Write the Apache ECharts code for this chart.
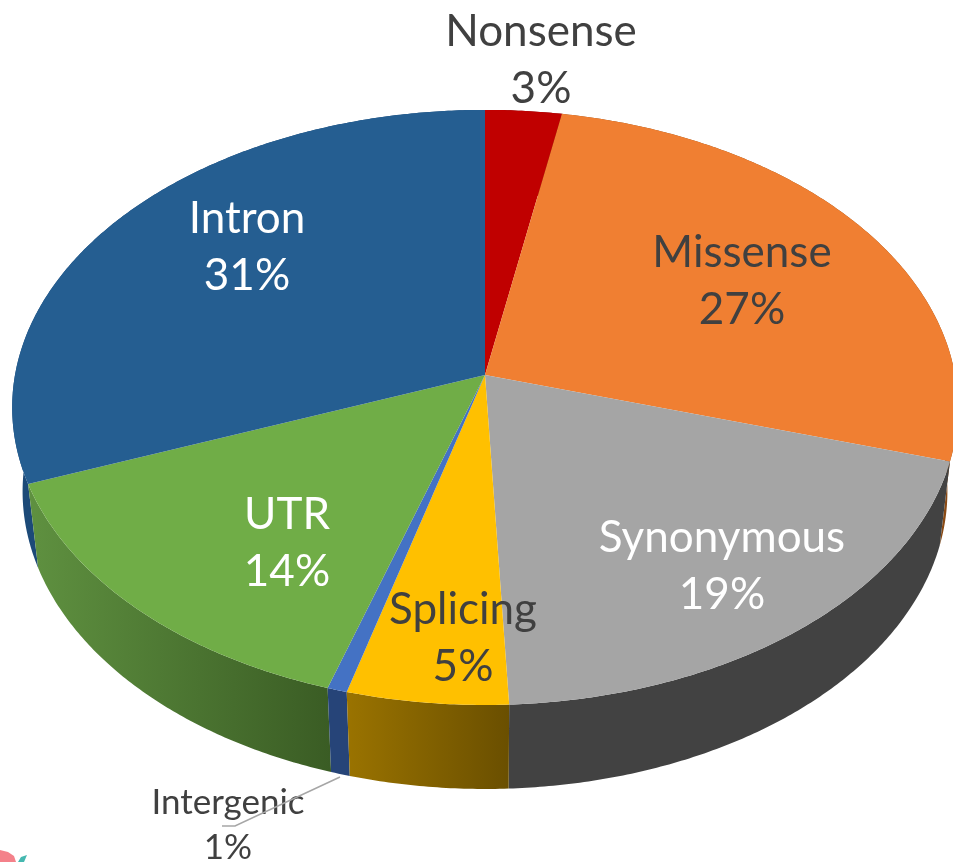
<!DOCTYPE html>
<html>
<head>
<meta charset="utf-8">
<style>
  html, body { margin: 0; padding: 0; background: #fff; }
  #chart { width: 953px; height: 862px; }
</style>
</head>
<body>
<div id="chart"></div>
<script src="https://cdn.jsdelivr.net/npm/echarts@6/dist/echarts.min.js"></script>
<script>
const categories = ['Nonsense', 'Missense', 'Synonymous', 'Splicing', 'Intergenic', 'UTR', 'Intron']
const shares = [2.9, 26.7, 19.67, 4.97, 0.61, 14.35, 30.8]
const percentLabels = ['3%', '27%', '19%', '5%', '1%', '14%', '31%']

const topColors = ['#c00000', '#f07f32', '#a5a5a5', '#ffc000', '#4472c4', '#70ad47', '#255e91']
const wallColors = [
  ['#7a0000', '#7a0000'],
  ['#8a4a14', '#8a4a14'],
  ['#424242', '#424242'],
  ['#9a7300', '#6a4f00'],
  ['#264478', '#264478'],
  ['#5f9140', '#3a5c24'],
  ['#1c4a78', '#1c4a78']
]
const labelColors = ['#404040', '#404040', '#ffffff', '#404040', '#404040', '#ffffff', '#ffffff']
const labelAnchors = [[541, 60], [742, 281], [722, 566], [463, 638], [228, 825], [287, 543], [247, 247]]
const labelSizes = [44, 44, 44, 44, 35, 44, 44]
const leaderLine = [[340, 777], [235, 826], [222, 826]]

// pie tilted in perspective: a circle seen through a projective map
const apex = [485, 375]
const rimA = 470
const rimB = 294
const tilt = 0.109
const depth = 84
const wallTaper = 0.978

const total = shares.reduce((a, b) => a + b, 0)
let acc = 0
const slices = shares.map(v => {
  const s = { start: (acc / total) * 360, end: ((acc + v) / total) * 360 }
  acc += v
  return s
})

function rim(deg, lower) {
  const t = (deg * Math.PI) / 180
  const u = Math.sin(t)
  const v = -Math.cos(t)
  const w = 1 - tilt * v
  const x = (rimA * u) / w
  const y = (rimB * v) / w
  return lower ? [apex[0] + x * wallTaper, apex[1] + y + depth] : [apex[0] + x, apex[1] + y]
}

function arc(s, lower) {
  const pts = []
  const n = Math.max(2, Math.ceil((s.end - s.start) * 2))
  for (let i = 0; i <= n; i++) pts.push(rim(s.start + ((s.end - s.start) * i) / n, lower))
  return pts
}

// back walls first, the nearest ones last
const wallOrder = slices
  .map((s, i) => ({ i, near: -Math.cos((((s.start + s.end) / 2) * Math.PI) / 180) }))
  .sort((a, b) => a.near - b.near)
  .map(d => d.i)

const chart = echarts.init(document.getElementById('chart'))

chart.setOption({
  backgroundColor: '#ffffff',
  animation: false,
  graphic: [
    { type: 'polygon', shape: { points: [[0, 850], [8, 852], [14, 856], [16, 862], [0, 862]] }, style: { fill: '#f4818a' } },
    { type: 'polygon', shape: { points: [[27, 855], [21, 857], [18, 862], [24, 862]] }, style: { fill: '#45b8b0' } }
  ],
  series: [
    {
      type: 'custom',
      coordinateSystem: 'none',
      silent: true,
      z: 1,
      data: wallOrder.map(i => [i]),
      renderItem(params, api) {
        const i = api.value(0)
        const pts = arc(slices[i], false).concat(arc(slices[i], true).reverse())
        return {
          type: 'polygon',
          shape: { points: pts },
          style: {
            fill: new echarts.graphic.LinearGradient(0, 0, 1, 0, [
              { offset: 0, color: wallColors[i][0] },
              { offset: 1, color: wallColors[i][1] }
            ])
          }
        }
      }
    },
    {
      type: 'custom',
      coordinateSystem: 'none',
      silent: true,
      z: 2,
      data: shares.map((v, i) => [i]),
      renderItem(params, api) {
        const i = api.value(0)
        return {
          type: 'polygon',
          shape: { points: [apex].concat(arc(slices[i], false)) },
          style: { fill: topColors[i] }
        }
      }
    },
    {
      type: 'custom',
      coordinateSystem: 'none',
      silent: true,
      z: 4,
      data: shares.map((v, i) => [i]),
      renderItem(params, api) {
        const i = api.value(0)
        const size = labelSizes[i]
        const children = [{
          type: 'text',
          style: {
            x: labelAnchors[i][0],
            y: labelAnchors[i][1],
            text: categories[i] + '\n' + percentLabels[i],
            fill: labelColors[i],
            font: size + 'px Lato',
            lineHeight: size * 1.3,
            align: 'center',
            verticalAlign: 'middle'
          }
        }]
        // only the thin slice has a leader line
        if (categories[i] === 'Intergenic') {
          children.push({
            type: 'polyline',
            shape: { points: leaderLine },
            style: { stroke: '#a6a6a6', lineWidth: 1.5, fill: 'none' }
          })
        }
        return { type: 'group', children }
      }
    }
  ]
})
</script>
</body>
</html>
